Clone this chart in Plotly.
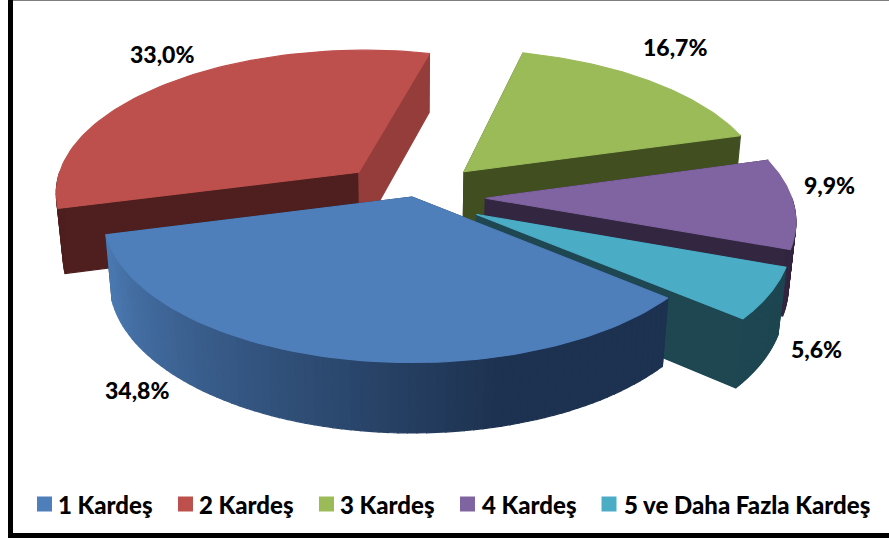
"""Exploded 3D-look pie of sibling counts, projected by hand onto a pixel-sized 2D axis"""

import numpy as np
import plotly.graph_objects as go

categories = ['1 Kardeş', '2 Kardeş', '3 Kardeş', '4 Kardeş', '5 ve Daha Fazla Kardeş']
values = [34.8, 33.0, 16.7, 9.9, 5.6]
exploded = [0, 0.25, 0.25, 0.24, 0.24]
top_colors = ['#4f7fbb', '#bd504d', '#9bbb59', '#8064a2', '#4bacc6']
start_wall_colors = ['#1d3250', '#4e1f1e', '#414f20', '#332640', '#1e4752']
end_wall_colors = ['#1d3250', '#953d3a', '#414f20', '#332640', '#1e4752']

# pie geometry in screen pixels
CX, CY = 412, 197
R, KR, DEPTH, PERSP, CONVERGE = 306, 144, 66, 0.13, 0.02
START_ANGLE = 130

label_pos = [(137, 390), (162, 54), (675, 47), (829, 185), (816, 349)]
legend_swatch_x = [44.5, 185.5, 326.5, 467.5, 609]
legend_text_x = [58, 199, 340, 482, 624]
LEGEND_Y = 504


def project(theta, radius, off, z):
    """theta in degrees clockwise from the top, off is the slice's explode vector"""
    t = np.radians(theta)
    xx = radius * np.sin(t) + off[0]
    yy = -radius * np.cos(t) + off[1]
    w = 1 - PERSP * yy + CONVERGE * z
    return CX + R * xx / w, CY + (KR * yy + DEPTH * z) / w


def poly(fig, pts, color):
    xs = [q[0] for q in pts] + [pts[0][0]]
    ys = [q[1] for q in pts] + [pts[0][1]]
    fig.add_trace(go.Scatter(x=xs, y=ys, mode='lines', fill='toself', fillcolor=color,
                             line=dict(width=1.2, color=color), hoverinfo='skip',
                             showlegend=False))


def lerp_color(a, b, f):
    ca = [int(a[i:i + 2], 16) for i in (1, 3, 5)]
    cb = [int(b[i:i + 2], 16) for i in (1, 3, 5)]
    return 'rgb(%d,%d,%d)' % tuple(round(p + (q - p) * f) for p, q in zip(ca, cb))


fig = go.Figure()

# slice angle ranges come from the values
edges = START_ANGLE + np.cumsum([0] + values) * 3.6
draw_order = [1, 2, 3, 4, 0]

for i in draw_order:
    a0, a1 = edges[i], edges[i + 1]
    mid = np.radians((a0 + a1) / 2)
    off = (exploded[i] * np.sin(mid), -exploded[i] * np.cos(mid))
    arc = np.linspace(a0, a1, 80)

    # cut walls
    for ang, col in ((a0, start_wall_colors[i]), (a1, end_wall_colors[i])):
        poly(fig, [project(ang, 0, off, 0), project(ang, 1, off, 0),
                   project(ang, 1, off, 1), project(ang, 0, off, 1)], col)

    # outer rim, front-facing part only; the blue one carries a gradient
    for s0, s1 in zip(arc[:-1], arc[1:]):
        if np.cos(np.radians((s0 + s1) / 2)) > 0:
            continue
        if i == 0:
            f = min(1, max(0, (250 - s0) / 85))
            col = lerp_color('#4a78b0', '#1d3250', f)
        else:
            col = start_wall_colors[i]
        poly(fig, [project(s0, 1, off, 0), project(s1, 1, off, 0),
                   project(s1, 1, off, 1), project(s0, 1, off, 1)], col)

    # top face
    apex = project(0, 0, off, 0)
    poly(fig, [apex] + [project(a, 1, off, 0) for a in arc], top_colors[i])

# legend entries
for name, color, sx, tx in zip(categories, top_colors, legend_swatch_x, legend_text_x):
    fig.add_trace(go.Scatter(x=[sx], y=[LEGEND_Y], mode='markers', hoverinfo='skip',
                             showlegend=False, name=name,
                             marker=dict(symbol='square', size=15, color=color)))
    fig.add_annotation(x=tx, y=LEGEND_Y, text=name, showarrow=False, xanchor='left',
                       xshift=-2, font=dict(size=24))

for val, (lx, ly) in zip(values, label_pos):
    fig.add_annotation(x=lx, y=ly, text=f'{val:.1f}%'.replace('.', ','), showarrow=False,
                       font=dict(size=23))

fig.add_shape(type='rect', x0=10.5, x1=892, y0=-2, y1=535.5,
              line=dict(color='black', width=5), layer='above')

fig.update_layout(
    width=889, height=541,
    margin=dict(l=0, r=0, t=0, b=0),
    paper_bgcolor='white', plot_bgcolor='white',
    showlegend=False,
    xaxis=dict(range=[0, 889], visible=False, fixedrange=True),
    yaxis=dict(range=[541, 0], visible=False, fixedrange=True),
)
fig.update_annotations(font_family='Lato', font_color='black', font_weight=900)

fig.write_html("out.html", config=dict(displayModeBar=False),
               post_script="document.body.style.margin='0'")
